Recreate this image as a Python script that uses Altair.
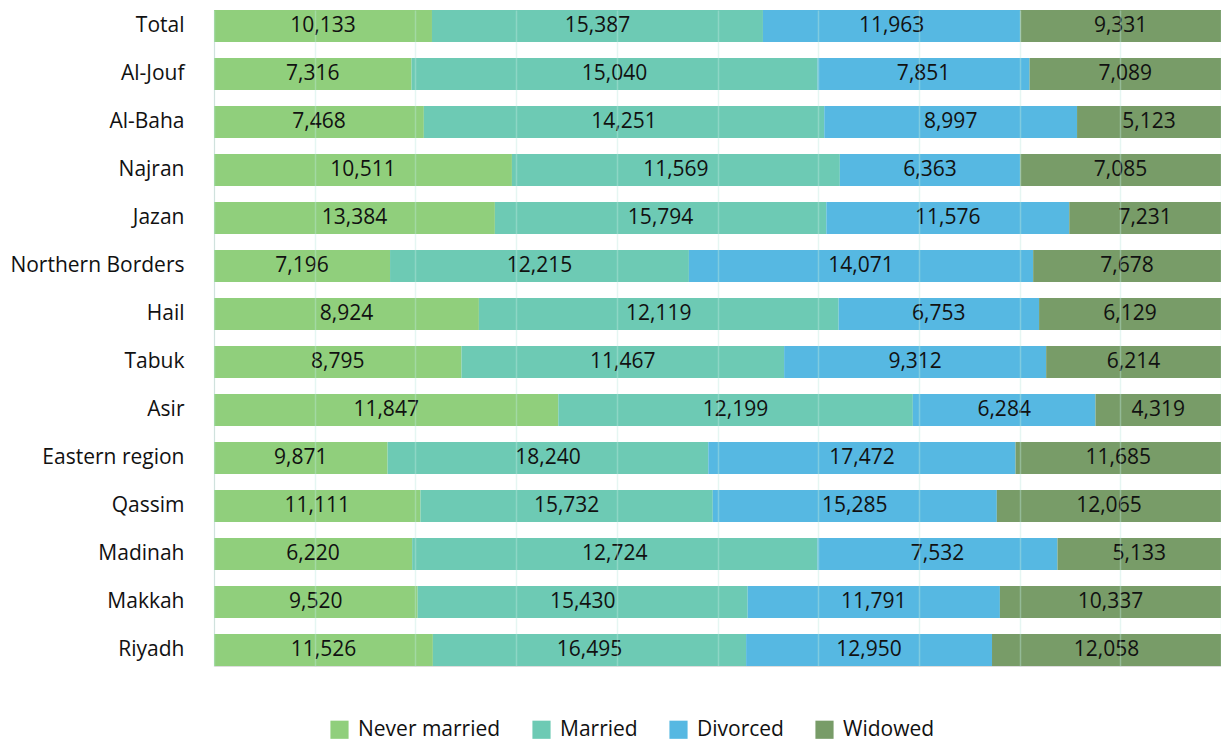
import altair as alt
import pandas as pd

regions = ["Total", "Al-Jouf", "Al-Baha", "Najran", "Jazan", "Northern Borders", "Hail",
           "Tabuk", "Asir", "Eastern region", "Qassim", "Madinah", "Makkah", "Riyadh"]
never_married = [10133, 7316, 7468, 10511, 13384, 7196, 8924, 8795, 11847, 9871, 11111, 6220, 9520, 11526]
married = [15387, 15040, 14251, 11569, 15794, 12215, 12119, 11467, 12199, 18240, 15732, 12724, 15430, 16495]
divorced = [11963, 7851, 8997, 6363, 11576, 14071, 6753, 9312, 6284, 17472, 15285, 7532, 11791, 12950]
widowed = [9331, 7089, 5123, 7085, 7231, 7678, 6129, 6214, 4319, 11685, 12065, 5133, 10337, 12058]
statuses = ["Never married", "Married", "Divorced", "Widowed"]
colors = ["#90cf7c", "#6dcab4", "#56b8e2", "#789c68"]
grid_values = [0, 0.1, 0.2, 0.3, 0.4, 0.5, 0.6, 0.7, 0.8, 0.9, 1.0]

rows = []
series = [never_married, married, divorced, widowed]
for i, r in enumerate(regions):
    for k, s in enumerate(statuses):
        rows.append({"region": r, "status": s, "order": k, "value": series[k][i]})
df = pd.DataFrame(rows)

FONT = "Open Sans"

base = alt.Chart(df).transform_stack(
    stack="value", groupby=["region"], sort=[alt.SortField("order", order="ascending")],
    as_=["x0", "x1"], offset="normalize"
).transform_calculate(mid="(datum.x0 + datum.x1) / 2")

yenc = alt.Y("region:N", sort=regions, title=None,
             scale=alt.Scale(paddingInner=0.333, paddingOuter=0.0),
             axis=alt.Axis(ticks=False, tickSize=0, domain=False, labelPadding=30,
                           labelFontSize=21, labelFont=FONT, labelColor="#111111", grid=False))

bars = base.mark_bar().encode(
    x=alt.X("x0:Q", title=None, scale=alt.Scale(domain=[0, 1], nice=False),
            axis=alt.Axis(values=grid_values, labels=False, ticks=False, domain=False,
                          grid=True, gridColor="#bfe8df", gridOpacity=0.4, gridWidth=1.5, zindex=1)),
    x2="x1:Q",
    y=yenc,
    color=alt.Color("status:N", sort=statuses,
                    scale=alt.Scale(domain=statuses, range=colors),
                    legend=alt.Legend(title=None, orient="none", direction="horizontal",
                                      legendX=115, legendY=709, symbolType="square",
                                      symbolSize=330, symbolStrokeWidth=0, symbolOpacity=1,
                                      labelFontSize=21, labelFont=FONT, labelColor="#111111",
                                      columnPadding=30, labelOffset=8)),
)

text = base.mark_text(fontSize=21, font=FONT, color="#111111").encode(
    x=alt.X("mid:Q"),
    y=alt.Y("region:N", sort=regions),
    text=alt.Text("value:Q", format=","),
)

chart = alt.layer(bars, text).properties(
    width=1007, height=656,
    padding={"left": 206, "top": 2, "right": 0, "bottom": 76},
    autosize=alt.AutoSizeParams(type="none"),
).configure_view(stroke=None).configure(background="white")

chart.save("out.html", embed_options={"renderer": "svg", "actions": False})
